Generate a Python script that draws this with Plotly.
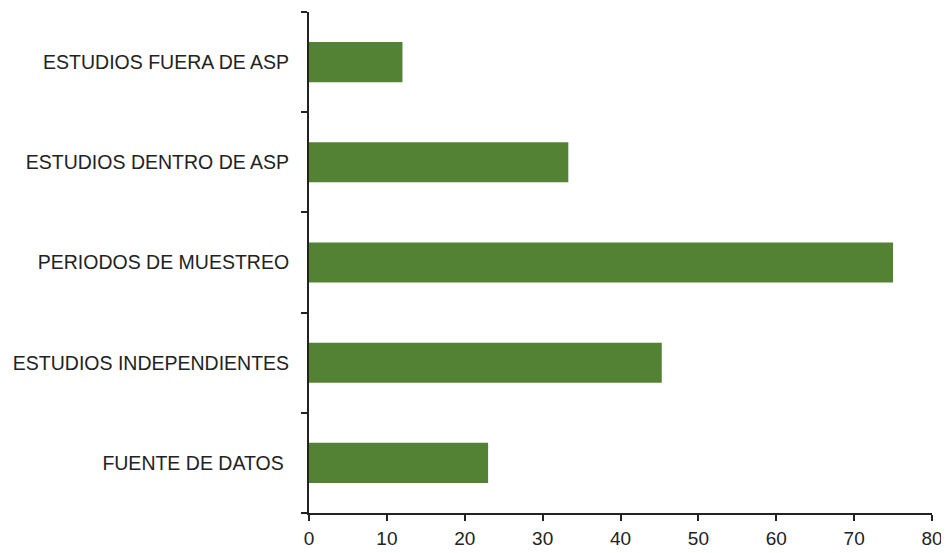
import plotly.graph_objects as go

categories = ["FUENTE DE DATOS ", "ESTUDIOS INDEPENDIENTES", "PERIODOS DE MUESTREO",
              "ESTUDIOS DENTRO DE ASP", "ESTUDIOS FUERA DE ASP"]
values = [23, 45.3, 75, 33.3, 12]
x_ticks = [0, 10, 20, 30, 40, 50, 60, 70, 80]

fig = go.Figure(go.Bar(
    x=values, y=categories, orientation="h",
    marker=dict(color="#548235", line=dict(width=0)),
))

fig.update_layout(
    width=941, height=545,
    margin=dict(l=301, r=17, t=4, b=40, autoexpand=False),
    paper_bgcolor="white", plot_bgcolor="white",
    bargap=0.6,
    showlegend=False,
    font=dict(family="Liberation Sans, Arial, sans-serif", size=19, color="#222222"),
)
fig.update_xaxes(
    range=[0, 80], tickvals=x_ticks, ticktext=[str(v) for v in x_ticks],
    showgrid=False, zeroline=False, automargin=False,
    showline=True, linecolor="#222222", linewidth=2,
    ticks="outside", ticklen=6, tickwidth=2, tickcolor="#222222",
    ticklabelstandoff=1,
    tickfont=dict(size=19),
)
fig.update_yaxes(
    type="category", categoryorder="array", categoryarray=categories,
    range=[-0.5, 4.5], automargin=False,
    showgrid=False, zeroline=False,
    showline=True, linecolor="#222222", linewidth=2,
    ticks="outside", ticklen=6, tickwidth=2, tickcolor="#222222",
    tickson="boundaries", ticklabelstandoff=14,
    tickfont=dict(size=19.5),
)

fig.write_html("out.html")
